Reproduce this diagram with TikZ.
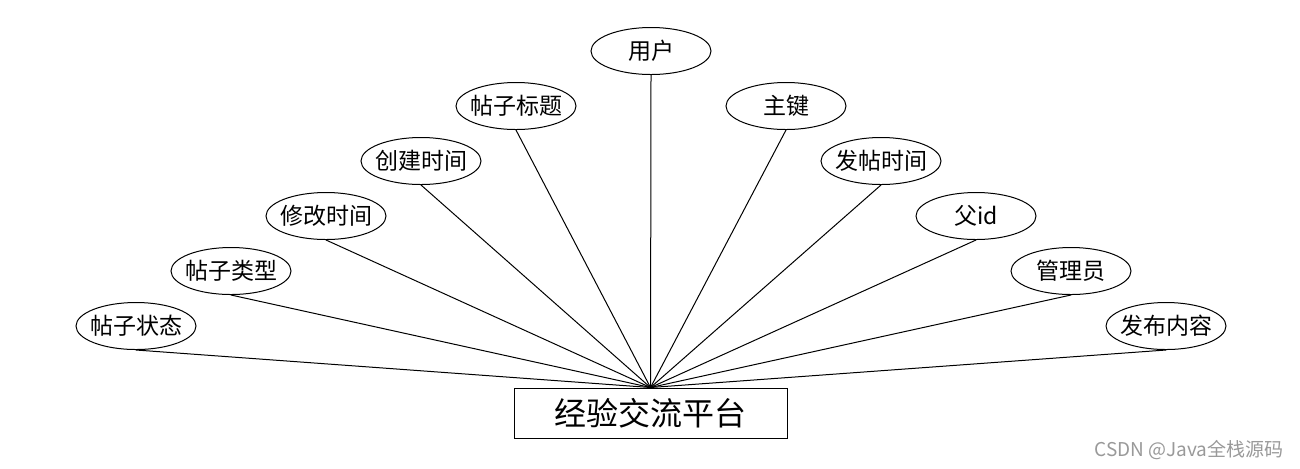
\documentclass[tikz,border=0pt]{standalone}
\usepackage{fontspec}
\usetikzlibrary{shapes.geometric}
\newfontfamily\cjk{Noto Sans CJK SC}
\begin{document}
\begin{tikzpicture}[x=0.5pt,y=-0.5pt,
every node/.style={font=\cjk},
attr/.style={draw,ellipse,line width=0.5pt,minimum width=60pt,minimum height=23.5pt,inner xsep=-5pt,inner ysep=0pt,font=\cjk\fontsize{11.5}{12}\selectfont},
entity/.style={draw,rectangle,line width=0.5pt,minimum width=136.5pt,minimum height=25pt,inner sep=0pt,font=\cjk\fontsize{16}{17}\selectfont},
link/.style={line width=0.5pt}]
\useasboundingbox (0,0) rectangle (1300,468);
\node[entity] (pt) at (650.5,413) {经验交流平台};
\node[attr] (yh) at (651,51) {用户};
\node[attr] (btt) at (516,106) {帖子标题};
\node[attr] (zj) at (786,106) {主键};
\node[attr] (cjsj) at (421,161) {创建时间};
\node[attr] (ftsj) at (881,161) {发帖时间};
\node[attr] (xgsj) at (326,216) {修改时间};
\node[attr] (fid) at (976,216) {父id};
\node[attr] (btl) at (231,271) {帖子类型};
\node[attr] (gly) at (1071,271) {管理员};
\node[attr] (bzt) at (136,326) {帖子状态};
\node[attr] (fbnr) at (1166,326) {发布内容};
\draw[link] (yh.south)--(pt.north);
\draw[link] (btt.south)--(pt.north);
\draw[link] (zj.south)--(pt.north);
\draw[link] (cjsj.south)--(pt.north);
\draw[link] (ftsj.south)--(pt.north);
\draw[link] (xgsj.south)--(pt.north);
\draw[link] (fid.south)--(pt.north);
\draw[link] (btl.south)--(pt.north);
\draw[link] (gly.south)--(pt.north);
\draw[link] (bzt.south)--(pt.north);
\draw[link] (fbnr.south)--(pt.north);
\node[text=black!40,font=\cjk\fontsize{9.5}{10}\selectfont,anchor=east,inner sep=0pt] (wm) at (1284,450) {CSDN @Java全栈源码};
\end{tikzpicture}
\end{document}
